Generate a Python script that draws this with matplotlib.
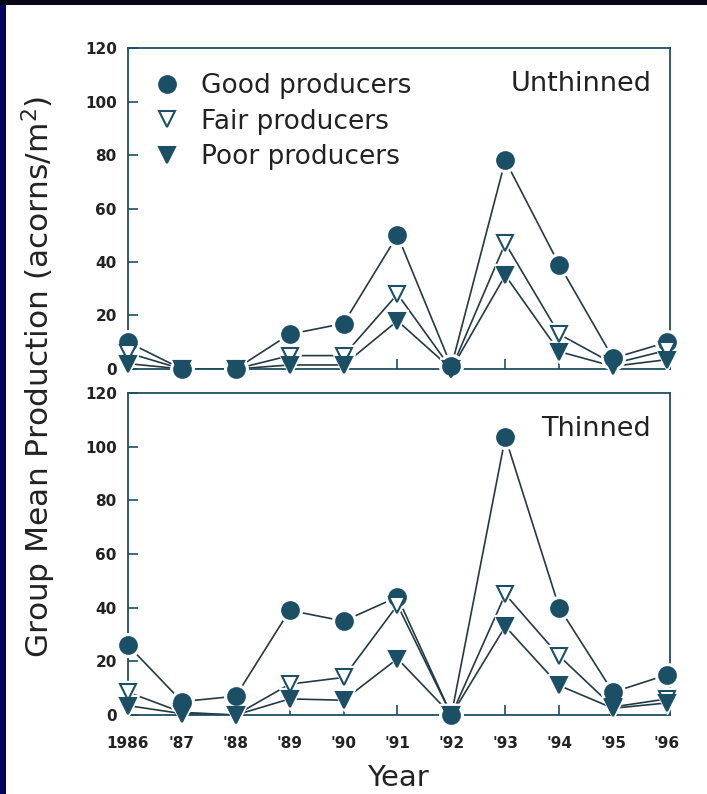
import matplotlib
matplotlib.use('Agg')
import matplotlib.pyplot as plt
from matplotlib.patches import Rectangle

years = [1986, 1987, 1988, 1989, 1990, 1991, 1992, 1993, 1994, 1995, 1996]
year_labels = ['1986', "'87", "'88", "'89", "'90", "'91", "'92", "'93", "'94", "'95", "'96"]

# unthinned stands
good_unthinned = [10, 0, 0, 13, 17, 50, 1, 78, 39, 4, 10]
fair_unthinned = [6, 0, 0, 5, 5, 28, 0, 47, 13, 2, 7]
poor_unthinned = [2, 0, 0, 1.5, 1.5, 18, 0, 35, 6.5, 1, 3.5]

# thinned stands
good_thinned = [26, 5, 7, 39, 35, 44, 0, 103.5, 40, 8.5, 15]
fair_thinned = [8.5, 1, 0, 11.5, 14, 41, 0, 45, 22, 3, 6]
poor_thinned = [3.5, 0.5, 0, 6, 5.5, 21, 0, 33, 11, 2.5, 4.5]

ink = '#1b4f66'
line_col = '#233a45'
txt = '#222222'

fig = plt.figure(figsize=(7.07, 7.94), dpi=100)
fig.patch.set_facecolor('white')
fig.patches.append(Rectangle((0, 0), 6 / 707, 1, transform=fig.transFigure,
                             facecolor='#05045c', edgecolor='none', zorder=0))
fig.patches.append(Rectangle((0, 1 - 5 / 794), 1, 5 / 794, transform=fig.transFigure,
                             facecolor='#070716', edgecolor='none', zorder=0))

ax1 = fig.add_axes([0.181, 0.5353, 0.767, 0.4042])
ax2 = fig.add_axes([0.181, 0.0995, 0.767, 0.4055])


def draw_panel(ax, good, fair, poor, title, legend=False):
    series = [
        (good, 'o', ink, ink, 12, 'Good producers'),
        (fair, 'v', 'white', ink, 11, 'Fair producers'),
        (poor, 'v', ink, ink, 11, 'Poor producers'),
    ]
    for vals, m, fc, ec, ms, lab in series:
        ax.plot(years, vals, '-', color=line_col, lw=1.2, zorder=2)
    # white halos so lines stop short of the symbols
    for vals, m, fc, ec, ms, lab in series:
        ax.plot(years, vals, ls='none', marker=m, ms=ms + 5, mfc='white', mec='white',
                zorder=3, clip_on=False)
    handles = []
    for vals, m, fc, ec, ms, lab in series:
        h, = ax.plot(years, vals, ls='none', marker=m, ms=ms, mfc=fc, mec=ec, mew=1.5,
                     zorder=4, clip_on=False, label=lab)
        handles.append(h)

    ax.set_xlim(1986, 1996.06)
    ax.set_ylim(0, 120)
    ax.set_yticks(range(0, 121, 20))
    ax.set_xticks(years)
    ax.tick_params(direction='in', length=7, width=1.2, color=ink, labelsize=11,
                   labelcolor=txt)
    ax.tick_params(axis='y', pad=8)
    ax.tick_params(axis='x', pad=15)
    for lbl in ax.get_xticklabels() + ax.get_yticklabels():
        lbl.set_fontweight('bold')
    for s in ax.spines.values():
        s.set_color(ink)
        s.set_linewidth(1.3)
    ax.text(0.965, 0.93, title, transform=ax.transAxes, ha='right', va='top',
            fontsize=19.5, color=txt)
    if legend:
        ax.legend(handles=handles, loc='upper left', bbox_to_anchor=(0.028, 0.955),
                  frameon=False, fontsize=19, handlelength=1.0, handletextpad=0.8,
                  labelspacing=0.36, borderaxespad=0, labelcolor=txt)
    return ax


draw_panel(ax1, good_unthinned, fair_unthinned, poor_unthinned, 'Unthinned', legend=True)
draw_panel(ax2, good_thinned, fair_thinned, poor_thinned, 'Thinned')
ax1.set_xticklabels([])
ax2.set_xticklabels(year_labels, fontweight='bold')

fig.text(0.563, 0.002, 'Year', ha='center', va='bottom', fontsize=21, color=txt)
fig.text(0.055, 0.525, 'Group Mean Production (acorns/m$^2$)', rotation=90,
         ha='center', va='center', fontsize=22.5, color=txt)

fig.savefig('out.png', dpi=100, facecolor=fig.get_facecolor())
